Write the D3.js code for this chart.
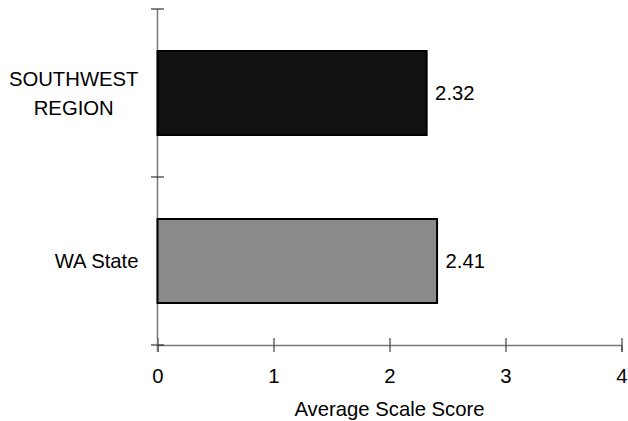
<!DOCTYPE html>
<html><head><meta charset="utf-8">
<script src="https://cdn.jsdelivr.net/npm/d3@7"></script>
<style>
body{margin:0;background:#fff;}
text{font-family:"Liberation Sans",Arial,sans-serif;fill:#000;}
</style></head>
<body><svg id="c" width="628" height="421"></svg>
<script>
const categories = ["SOUTHWEST REGION", "WA State"];
const categoryLines = [["SOUTHWEST", "REGION"], ["WA State"]];
const values = [2.32, 2.41];
const colors = ["#111111", "#8a8a8a"];
const xTicks = [0, 1, 2, 3, 4];
const xTitle = "Average Scale Score";

const svg = d3.select("#c");
const FS = 20.3;
const x = d3.scaleLinear().domain([0, 4]).range([157.5, 621.5]);
const y = d3.scaleBand().domain(categories).range([9, 345]).paddingInner(0.5).paddingOuter(0.25);
const yBase = 345;

// x axis
const xa = svg.append("g").attr("transform",`translate(0,${yBase})`)
  .call(d3.axisBottom(x).tickValues(xTicks).tickFormat(d3.format("d")).tickSizeOuter(0).tickSize(7));
xa.select(".domain").attr("stroke","#777").attr("stroke-width",1.5);
xa.selectAll(".tick line").attr("y1",-7).attr("y2",7).attr("stroke","#444").attr("stroke-width",1.2);
xa.selectAll(".tick text").attr("font-size",FS).attr("y",24).attr("dy","0.71em")
  .style("font-family",'"Liberation Sans",Arial,sans-serif').attr("fill","#000");

// y axis
const [r0, r1] = y.range();
svg.append("line").attr("x1",x(0)).attr("x2",x(0)).attr("y1",r0).attr("y2",r1+7)
  .attr("stroke","#777").attr("stroke-width",1.5);
const yTickPos = d3.range(categories.length+1).map(i=>r0 + i*(r1-r0)/categories.length);
svg.selectAll("line.yt").data(yTickPos).join("line").attr("class","yt")
  .attr("x1",x(0)-6.5).attr("x2",x(0)+6.5).attr("y1",d=>d).attr("y2",d=>d)
  .attr("stroke","#333").attr("stroke-width",1.2);

// bars
svg.selectAll("rect.bar").data(values).join("rect")
  .attr("class","bar")
  .attr("x", x(0))
  .attr("y", (d,i)=>y(categories[i]))
  .attr("width", d=>x(d)-x(0))
  .attr("height", y.bandwidth())
  .attr("fill", (d,i)=>colors[i])
  .attr("stroke", "#000").attr("stroke-width", 2);

// value labels
svg.selectAll("text.val").data(values).join("text")
  .attr("class","val")
  .attr("x", d=>x(d)+8.5)
  .attr("y", (d,i)=>y(categories[i])+y.bandwidth()/2+7)
  .attr("font-size", FS)
  .text(d=>d.toFixed(2));

// category labels
categoryLines.forEach((lines,i)=>{
  const cy = y(categories[i]) + y.bandwidth()/2;
  const lh = 29;
  const g = svg.append("g");
  const ts = lines.map((l,j)=>g.append("text").attr("font-size",FS)
     .attr("y", cy + (j-(lines.length-1)/2)*lh + 7).text(l));
  const widths = ts.map(t=>t.node().getComputedTextLength());
  const maxW = d3.max(widths);
  const right = 138.5;
  ts.forEach(t=>t.attr("text-anchor","middle").attr("x", right - maxW/2));
});

// x title
svg.append("text").attr("x",(x(0)+x(4))/2).attr("y",416).attr("text-anchor","middle")
  .attr("font-size",FS).text(xTitle);
</script></body></html>
